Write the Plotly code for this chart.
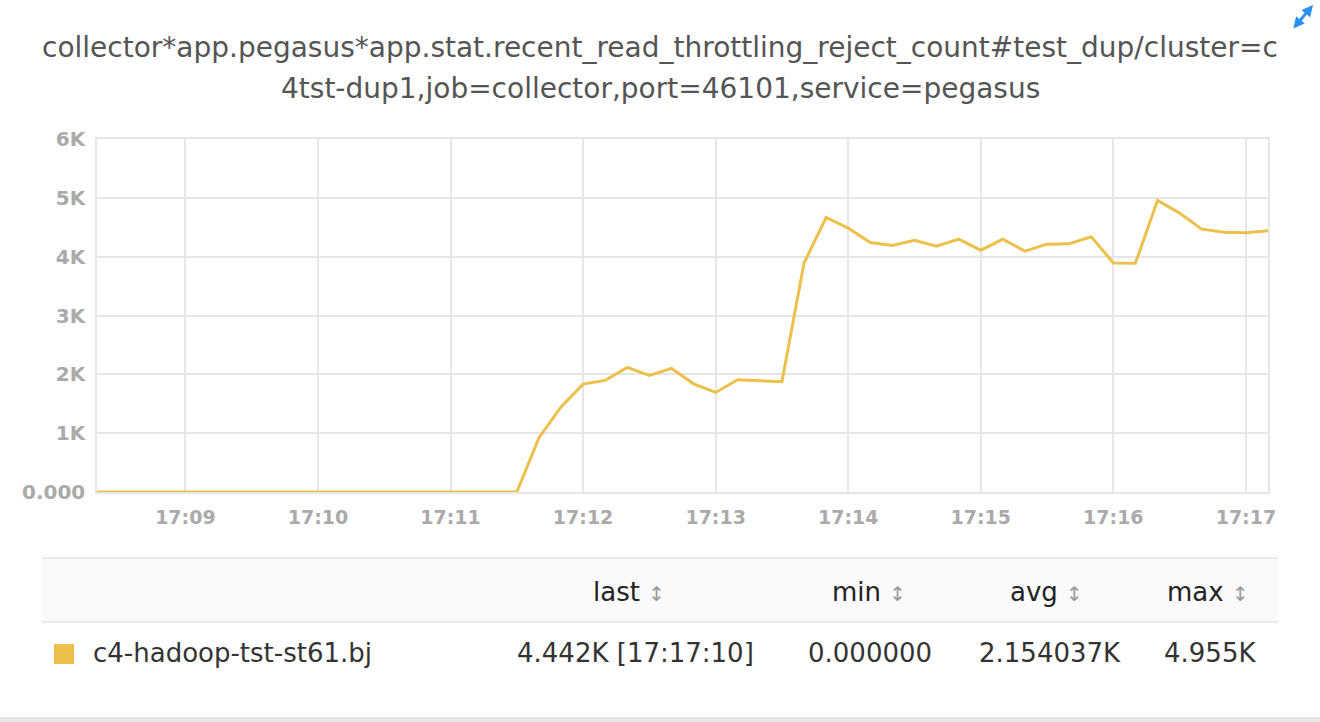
import pandas as pd
import plotly.graph_objects as go

# ---------------- data ----------------
start_time = "2018-01-01 17:08:20"
end_time = "2018-01-01 17:17:10"
times = pd.date_range(start_time, end_time, freq="10s")

values = [
    0, 0, 0, 0, 0, 0, 0, 0, 0, 0,
    0, 0, 0, 0, 0, 0, 0, 0, 0, 0,
    920, 1447, 1834, 1897, 2118, 1982, 2101, 1839, 1692, 1907,
    1890, 1873, 3889, 4666, 4485, 4240, 4189, 4280, 4178, 4297,
    4110, 4297, 4093, 4212, 4218, 4337, 3894, 3890, 4955, 4740,
    4468, 4417, 4405, 4442,
]

series_name = "c4-hadoop-tst-st61.bj"
title_lines = [
    "collector*app.pegasus*app.stat.recent_read_throttling_reject_count#test_dup/cluster=c",
    "4tst-dup1,job=collector,port=46101,service=pegasus",
]
y_tickvals = [0, 1000, 2000, 3000, 4000, 5000, 6000]
y_ticktext = ["0.000", "1K", "2K", "3K", "4K", "5K", "6K"]

table_headers = ["last", "min", "avg", "max"]
table_values = ["4.442K [17:17:10]", "0.000000", "2.154037K", "4.955K"]

# ---------------- layout helpers ----------------
W, H = 1320, 722
ML, MR, MT, MB = 97, 52, 139, 230
PW, PH = W - ML - MR, H - MT - MB


def px(x):
    return (x - ML) / PW


def py(y):
    return (H - MB - y) / PH


LINE_COLOR = "#ECC04B"
GRID = "#e6e6e6"
FONT = "DejaVu Sans"

fig = go.Figure()
fig.add_trace(go.Scatter(
    x=times, y=values, mode="lines", name=series_name,
    line=dict(color=LINE_COLOR, width=3),
    hoverinfo="x+y",
))

annotations = []
# title
for text, yy in zip(title_lines, [47, 88]):
    annotations.append(dict(
        text=text, x=px(660), y=py(yy), xref="paper", yref="paper",
        xanchor="center", yanchor="middle", showarrow=False,
        font=dict(family=FONT, size=28, color="#555555"),
    ))

# expand icon
annotations.append(dict(
    x=px(1313), y=py(5), xref="paper", yref="paper", text="",
    showarrow=True, ax=-21, ay=25, arrowside="end+start",
    arrowcolor="#2b8ff0", arrowwidth=2.8, arrowhead=2, arrowsize=0.8,
))

# table header
header_right = [667, 908, 1085, 1251]
for h, xr in zip(table_headers, header_right):
    annotations.append(dict(
        text=h + ' <span style="font-size:20px;color:#9a9a9a">↕</span>',
        x=px(xr), y=py(592), xref="paper", yref="paper",
        xanchor="right", yanchor="middle", showarrow=False,
        font=dict(family=FONT, size=26, color="#222222"),
    ))

# table row
annotations.append(dict(
    text=series_name, x=px(91), y=py(653), xref="paper", yref="paper",
    xanchor="left", yanchor="middle", showarrow=False,
    font=dict(family=FONT, size=26, color="#333333"),
))
value_right = [756, 934, 1123, 1258]
for v, xr in zip(table_values, value_right):
    annotations.append(dict(
        text=v, x=px(xr), y=py(653), xref="paper", yref="paper",
        xanchor="right", yanchor="middle", showarrow=False,
        font=dict(family=FONT, size=26, color="#333333"),
    ))

shapes = [
    # header background
    dict(type="rect", xref="paper", yref="paper", x0=px(42), x1=px(1278),
         y0=py(622), y1=py(558), fillcolor="#fafafa", line=dict(width=0), layer="below"),
    dict(type="line", xref="paper", yref="paper", x0=px(42), x1=px(1278),
         y0=py(558), y1=py(558), line=dict(color="#ebebeb", width=2)),
    dict(type="line", xref="paper", yref="paper", x0=px(42), x1=px(1278),
         y0=py(622), y1=py(622), line=dict(color="#ebebeb", width=2)),
    # legend square
    dict(type="rect", xref="paper", yref="paper", x0=px(54), x1=px(74),
         y0=py(664), y1=py(644), fillcolor=LINE_COLOR, line=dict(width=0)),
    # bottom band
    dict(type="rect", xref="paper", yref="paper", x0=px(0), x1=px(W),
         y0=py(H), y1=py(717), fillcolor="#e6e6e6", line=dict(width=0)),
]

fig.update_layout(
    width=W, height=H,
    margin=dict(l=ML, r=MR, t=MT, b=MB, pad=0),
    paper_bgcolor="white", plot_bgcolor="white",
    showlegend=False,
    annotations=annotations,
    shapes=shapes,
    font=dict(family=FONT),
)
fig.update_xaxes(
    type="date", range=[start_time, end_time],
    tickformat="%H:%M", dtick=60000, tick0="2018-01-01 17:00:00",
    showgrid=True, gridcolor=GRID, gridwidth=1.5,
    showline=True, linecolor=GRID, linewidth=1.5, mirror=True,
    ticks="outside", ticklen=7, tickcolor="rgba(0,0,0,0)",
    tickfont=dict(family=FONT, size=19, color="#aaaaaa", weight="bold"),
    zeroline=False, fixedrange=True,
)
fig.update_yaxes(
    range=[0, 6000], tickvals=y_tickvals, ticktext=y_ticktext,
    showgrid=True, gridcolor=GRID, gridwidth=1.5,
    showline=True, linecolor=GRID, linewidth=1.5, mirror=True,
    ticks="outside", ticklen=6, tickcolor="rgba(0,0,0,0)",
    tickfont=dict(family=FONT, size=20, color="#aaaaaa", weight="bold"),
    zeroline=False, fixedrange=True,
)

fig.write_html(
    "out.html",
    config={"displayModeBar": False},
    post_script="document.body.style.margin='0';document.body.style.overflow='hidden';",
)
